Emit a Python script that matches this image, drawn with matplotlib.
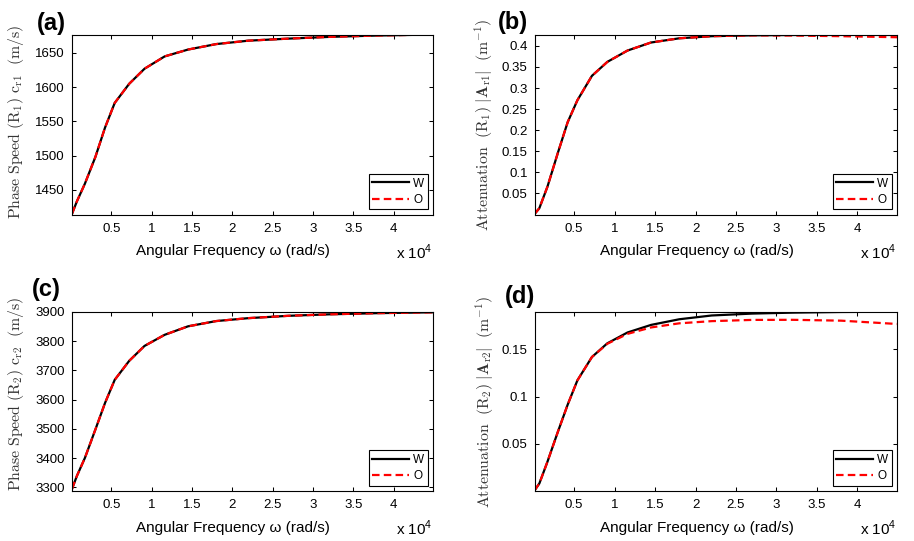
import matplotlib
matplotlib.use("Agg")
import matplotlib.pyplot as plt
from matplotlib.ticker import FixedLocator, FuncFormatter

plt.rcParams["font.family"] = ["Liberation Sans", "DejaVu Sans"]
plt.rcParams["mathtext.fontset"] = "custom"
plt.rcParams["mathtext.rm"] = "Liberation Sans"

# angular frequency samples (rad/s)
omega = [100, 700, 1700, 3000, 4200, 5400, 7200, 9100, 11600,
         14500, 18000, 22000, 27000, 32000, 38000, 44900]

# (a) phase speed R1 (m/s)
cr1_w = [1415, 1433, 1459, 1498, 1541, 1577, 1605, 1627, 1645,
         1655, 1663, 1668, 1671, 1673.5, 1675.5, 1677]
cr1_o = [1415, 1433, 1459, 1498, 1541, 1577, 1605, 1627, 1645,
         1655, 1663, 1668, 1671, 1673.5, 1675.5, 1677]

# (b) attenuation R1 (1/m)
ar1_w = [0.001, 0.015, 0.066, 0.147, 0.219, 0.271, 0.329, 0.362, 0.389,
         0.408, 0.418, 0.423, 0.425, 0.4258, 0.426, 0.426]
ar1_o = [0.001, 0.015, 0.066, 0.147, 0.219, 0.271, 0.329, 0.362, 0.389,
         0.408, 0.418, 0.423, 0.425, 0.4245, 0.423, 0.4205]

# (c) phase speed R2 (m/s)
cr2_w = [3295, 3339, 3401, 3498, 3589, 3668, 3733, 3784, 3822,
         3851, 3869, 3879, 3887, 3892, 3896, 3899]
cr2_o = [3295, 3339, 3401, 3498, 3589, 3668, 3733, 3784, 3822,
         3851, 3869, 3879, 3887, 3892, 3896, 3899]

# (d) attenuation R2 (1/m)
ar2_w = [0.0005, 0.008, 0.031, 0.063, 0.0915, 0.1172, 0.142, 0.1565, 0.168,
         0.176, 0.182, 0.186, 0.188, 0.189, 0.1897, 0.19]
ar2_o = [0.0005, 0.008, 0.031, 0.063, 0.0915, 0.1172, 0.142, 0.156, 0.1665,
         0.1733, 0.1777, 0.180, 0.1813, 0.1814, 0.1805, 0.177]

x_ticks = [5000, 10000, 15000, 20000, 25000, 30000, 35000, 40000]
legend_labels = ["W", "O"]

panels = [
    ("(a)", cr1_w, cr1_o, (1414, 1677), [1450, 1500, 1550, 1600, 1650],
     r"$\mathrm{Phase\ Speed\ (R_1)\ c_{r1}\ \ (m/s)}$"),
    ("(b)", ar1_w, ar1_o, (0, 0.427),
     [0.05, 0.1, 0.15, 0.2, 0.25, 0.3, 0.35, 0.4],
     r"$\mathrm{Attenuation\ \ (R_1)\ |\mathbf{A}_{r1}|\ \ (m^{-1})}$"),
    ("(c)", cr2_w, cr2_o, (3288, 3901),
     [3300, 3400, 3500, 3600, 3700, 3800, 3900],
     r"$\mathrm{Phase\ Speed\ (R_2)\ c_{r2}\ \ (m/s)}$"),
    ("(d)", ar2_w, ar2_o, (0, 0.19), [0.05, 0.1, 0.15],
     r"$\mathrm{Attenuation\ \ (R_2)\ |\mathbf{A}_{r2}|\ \ (m^{-1})}$"),
]

W, H = 914, 541
fig = plt.figure(figsize=(W / 100, H / 100), dpi=100)

# axes boxes in pixels: left, top, right, bottom
boxes = [(72, 34.5, 433, 214.5), (534.5, 34.5, 897, 214.5),
         (72, 311.7, 433, 491), (534.5, 311.7, 897, 491)]
tag_pos = [(37, 30), (498, 29), (32, 296), (505, 303)]
ylab_x = [-0.128, -0.108, -0.128, -0.106]
ylab_y = [0.517, 0.5, 0.54, 0.5]

for i, (tag, yw, yo, ylim, yticks, ylab) in enumerate(panels):
    l, t, r, b = boxes[i]
    ax = fig.add_axes([l / W, 1 - b / H, (r - l) / W, (b - t) / H])
    ax.plot(omega, yw, color="black", lw=1.6, label=legend_labels[0])
    ax.plot(omega, yo, color="#ff0000", lw=1.6, dashes=(3.4, 1.9),
            label=legend_labels[1])
    ax.set_xlim(omega[0], omega[-1])
    ax.set_ylim(*ylim)
    ax.xaxis.set_major_locator(FixedLocator(x_ticks))
    ax.xaxis.set_major_formatter(FuncFormatter(lambda v, p: "%g" % (v / 1e4)))
    ax.yaxis.set_major_locator(FixedLocator(yticks))
    ax.yaxis.set_major_formatter(FuncFormatter(lambda v, p: "%g" % v))
    ax.tick_params(direction="in", length=3, width=0.75, top=True,
                   right=True, labelsize=9.5, colors="black")
    ax.tick_params(axis="x", pad=6)
    ax.tick_params(axis="y", pad=5)
    for s in ax.spines.values():
        s.set_linewidth(0.8)

    ax.set_xlabel("Angular Frequency ω (rad/s)", fontsize=11)
    ax.xaxis.set_label_coords(0.447, -0.165)
    ax.set_ylabel(ylab, fontsize=11.4, color="#333333", math_fontfamily="cm")
    ax.yaxis.set_label_coords(ylab_x[i], ylab_y[i])

    ax.text(1.0, -0.245, r"x 10$^4$", transform=ax.transAxes,
            ha="right", va="baseline", fontsize=11)

    leg = ax.legend(loc="lower right", fontsize=8.5, handlelength=3.15,
                    handletextpad=0.3, borderpad=0.3, labelspacing=0.35,
                    borderaxespad=0.45, fancybox=False, framealpha=1)
    leg.get_frame().set_edgecolor("black")
    leg.get_frame().set_linewidth(0.8)

    tx, ty = tag_pos[i]
    fig.text(tx / W, 1 - ty / H, tag, fontsize=17, fontweight="bold",
             va="baseline", ha="left")

fig.savefig("out.png", dpi=100)
